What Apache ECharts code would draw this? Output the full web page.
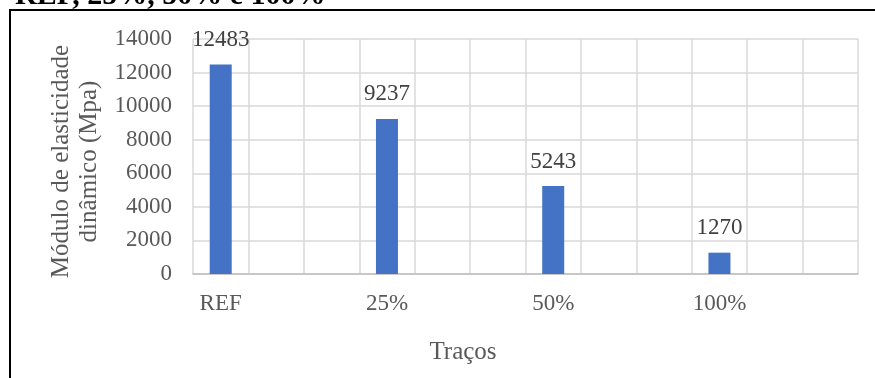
<!DOCTYPE html>
<html>
<head>
<meta charset="utf-8">
<script src="https://cdn.jsdelivr.net/npm/echarts@6/dist/echarts.min.js"></script>
<style>
  html, body { margin: 0; padding: 0; background: #fff; }
  #chart { width: 875px; height: 378px; }
</style>
</head>
<body>
<div id="chart"></div>
<script>
// Dynamic modulus of elasticity per trace
const categories = ['REF', '25%', '50%', '100%'];
const values = [12483, 9237, 5243, 1270];
const yTicks = { min: 0, max: 14000, interval: 2000 };

// Each trace occupies three slots on the axis; the bar sits in the first one
const SLOTS = 3;
const axisCats = [];
const axisVals = [];
categories.forEach((c, i) => {
  for (let k = 0; k < SLOTS; k++) {
    axisCats.push(k === 0 ? c : '');
    axisVals.push(k === 0 ? values[i] : null);
  }
});

const serif = '"Liberation Serif", "Times New Roman", serif';
const chart = echarts.init(document.getElementById('chart'));

chart.setOption({
  animation: false,
  backgroundColor: '#fff',
  graphic: [
    {
      type: 'text', left: 15, top: -19, z: 10,
      style: { text: 'REF, 25%, 50% e 100%', font: 'bold 30px ' + serif, fill: '#000' }
    },
    {
      type: 'rect', z: 5, silent: true,
      shape: { x: 10, y: 10, width: 900, height: 400 },
      style: { fill: 'none', stroke: '#000', lineWidth: 2 }
    },
    {
      type: 'text', z: 10,
      x: 463, y: 352,
      style: {
        text: 'Traços', font: '25px ' + serif, fill: '#595959',
        align: 'center', verticalAlign: 'middle'
      }
    }
  ],
  grid: { left: 193, right: 17, top: 39, bottom: 104 },
  xAxis: {
    type: 'category',
    data: axisCats,
    axisLine: { lineStyle: { color: '#bfbfbf', width: 1.5 } },
    axisTick: { show: false },
    axisLabel: { interval: 0, margin: 18, fontFamily: serif, fontSize: 23, color: '#595959' },
    splitLine: { show: true, interval: 0, lineStyle: { color: '#d9d9d9', width: 1.5 } }
  },
  yAxis: {
    type: 'value',
    min: yTicks.min, max: yTicks.max, interval: yTicks.interval,
    name: 'Módulo de elasticidade\ndinâmico (Mpa)',
    nameLocation: 'middle',
    nameGap: 87,
    nameRotate: 90,
    nameTextStyle: {
      fontFamily: serif, fontSize: 25, color: '#595959', lineHeight: 28,
      align: 'center', padding: [0, 10, 0, 0]
    },
    axisLine: { show: false },
    axisTick: { show: false },
    axisLabel: {
      margin: 21, fontFamily: serif, fontSize: 23, color: '#595959',
      formatter: v => String(v)
    },
    splitLine: { lineStyle: { color: '#d9d9d9', width: 1.5 } }
  },
  series: [{
    type: 'bar',
    data: axisVals,
    barWidth: 22,
    itemStyle: { color: '#4472C4' },
    label: {
      show: true, position: 'top', distance: 13,
      fontFamily: serif, fontSize: 23, color: '#404040'
    }
  }]
});
</script>
</body>
</html>
